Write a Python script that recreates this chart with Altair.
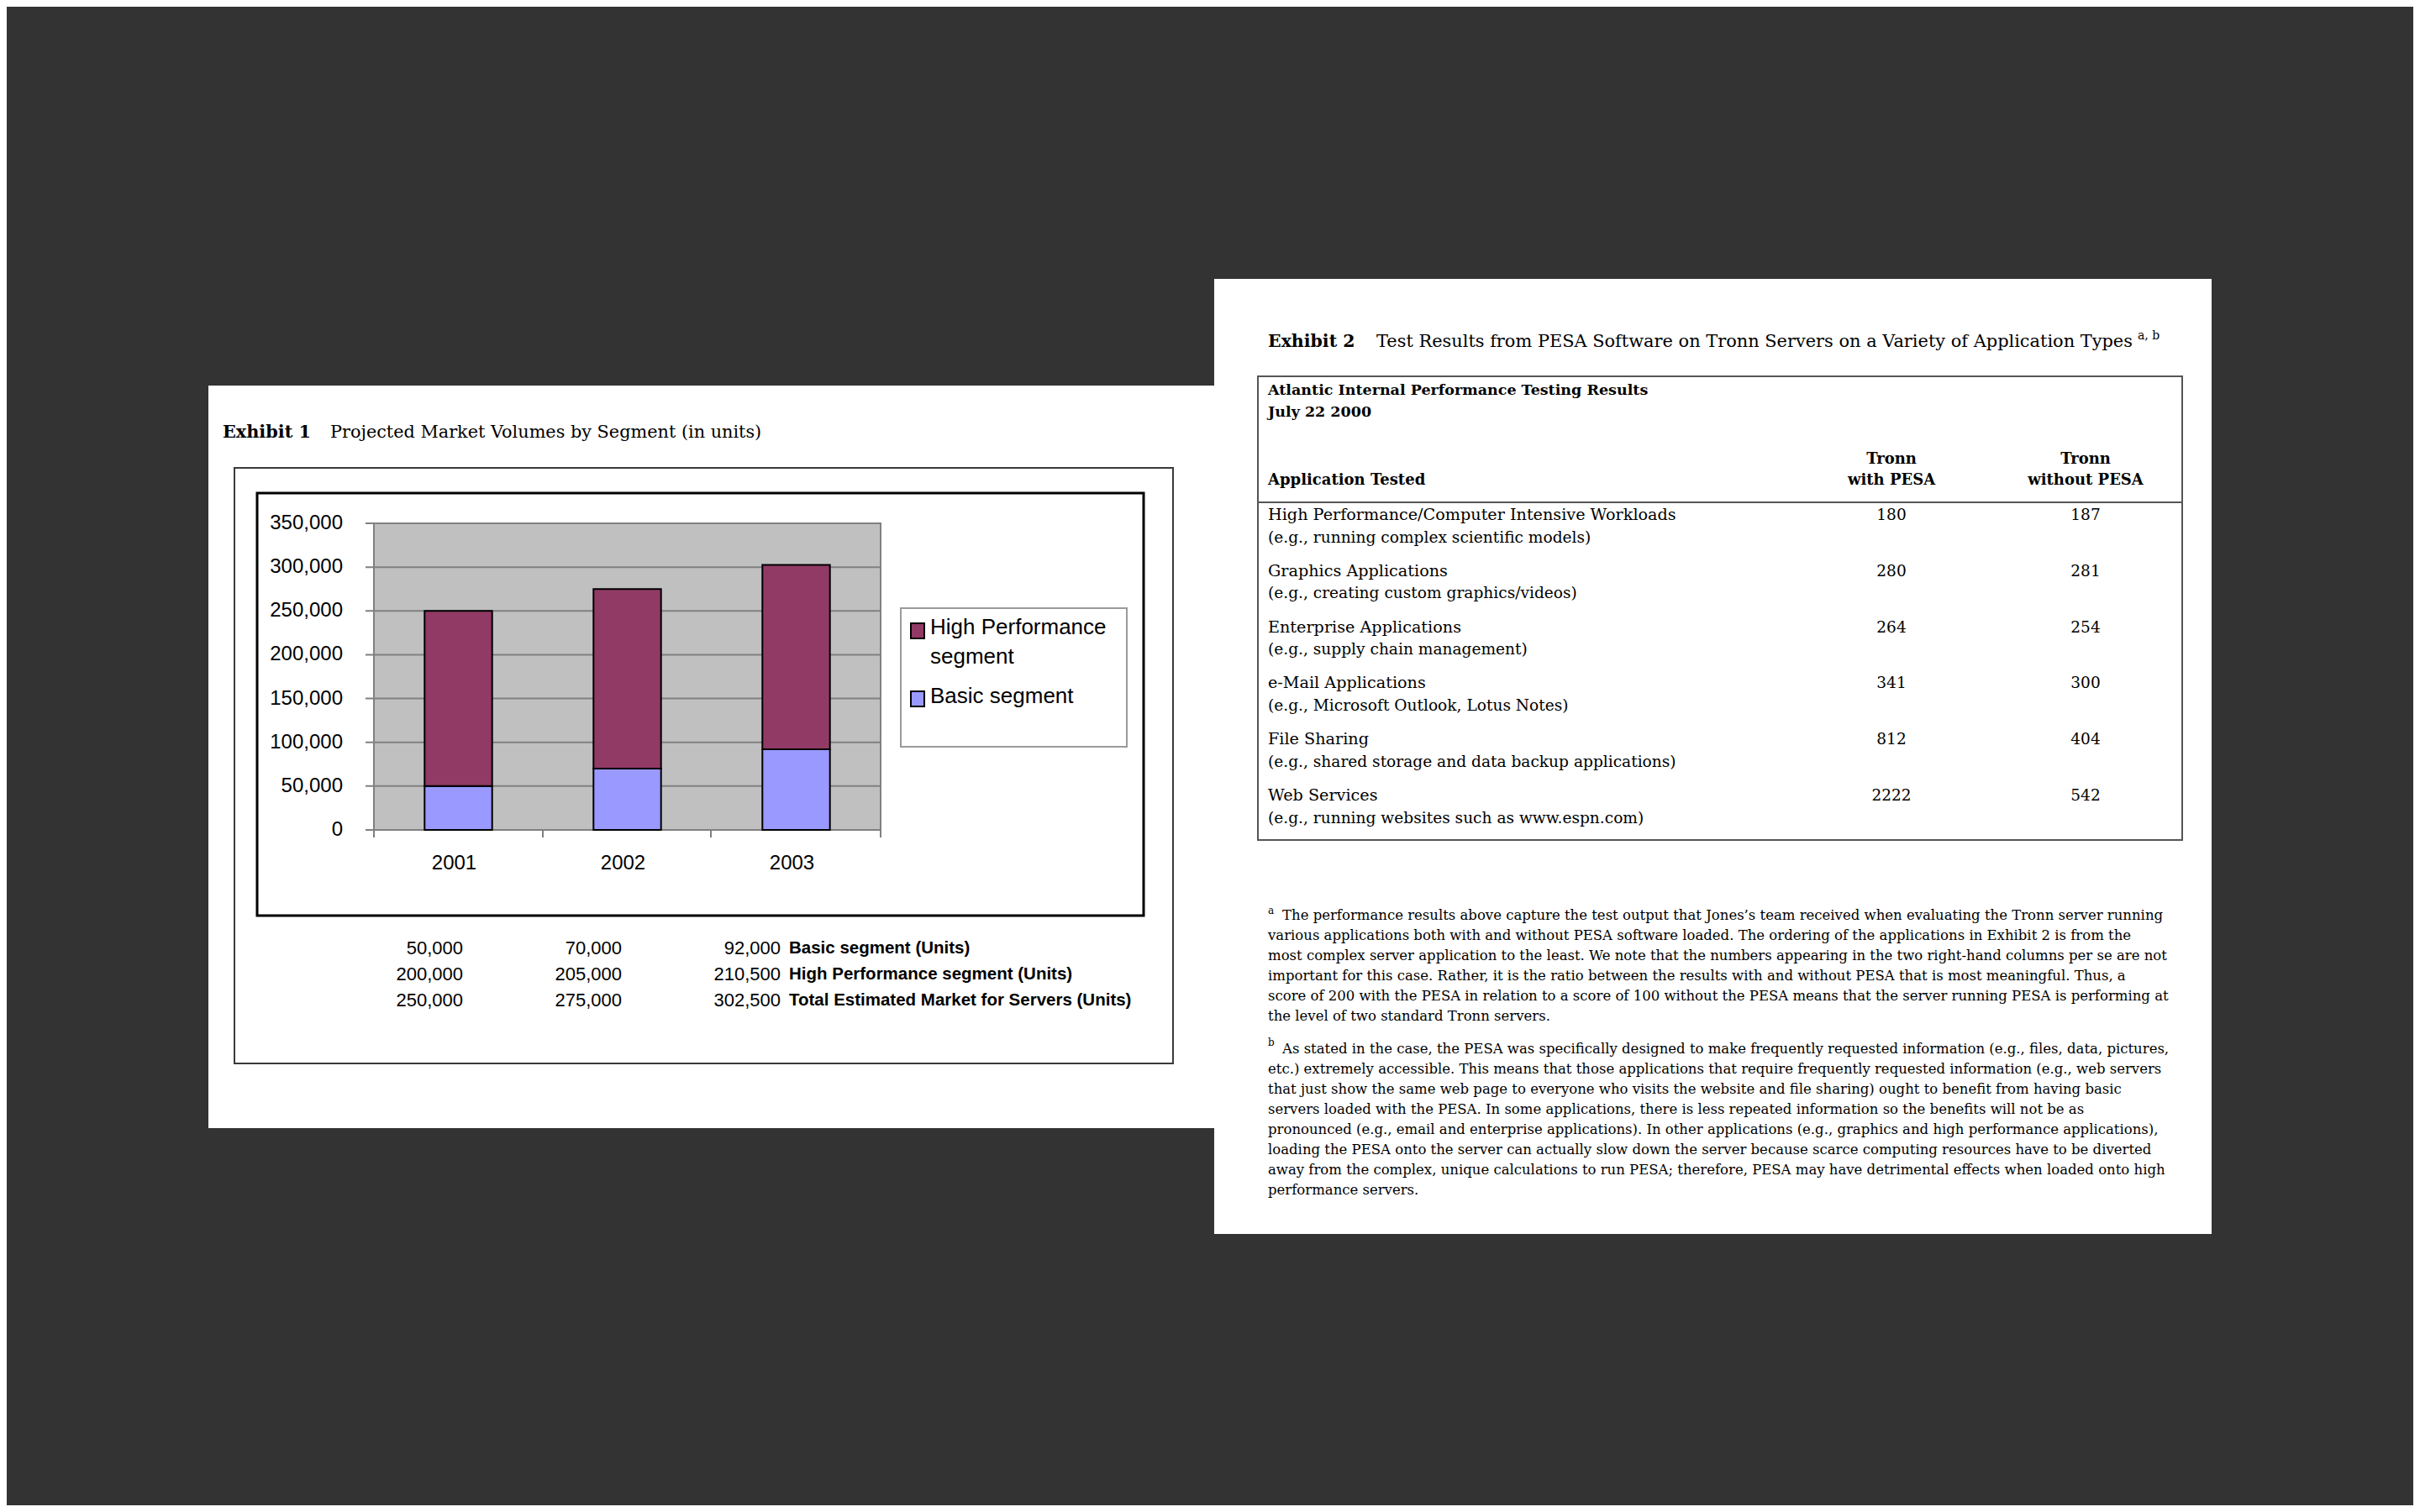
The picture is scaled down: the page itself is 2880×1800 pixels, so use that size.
import altair as alt
import pandas as pd

# ---------------- Exhibit 1 data ----------------
years = ["2001", "2002", "2003"]
basic_units = [50000, 70000, 92000]
high_perf_units = [200000, 205000, 210500]
total_units = [250000, 275000, 302500]
segments = ["Basic segment", "High Performance segment"]
segment_colors = ["#9999FF", "#913A65"]
y_ticks = [0, 50000, 100000, 150000, 200000, 250000, 300000, 350000]
table_labels = ["Basic segment (Units)", "High Performance segment (Units)",
                "Total Estimated Market for Servers (Units)"]

# ---------------- Exhibit 2 data ----------------
apps = ["High Performance/Computer Intensive Workloads", "Graphics Applications",
        "Enterprise Applications", "e-Mail Applications", "File Sharing", "Web Services"]
app_examples = ["(e.g., running complex scientific models)",
                "(e.g., creating custom graphics/videos)",
                "(e.g., supply chain management)",
                "(e.g., Microsoft Outlook, Lotus Notes)",
                "(e.g., shared storage and data backup applications)",
                "(e.g., running websites such as www.espn.com)"]
with_pesa = [180, 280, 264, 341, 812, 2222]
without_pesa = [187, 281, 254, 300, 404, 542]
value_columns = ["with PESA", "without PESA"]

note_a = [
    "The performance results above capture the test output that Jones\u2019s team received when evaluating the Tronn server running",
    "various applications both with and without PESA software loaded.  The ordering of the applications in Exhibit 2 is from the",
    "most complex server application to the least.  We note that the numbers appearing in the two right-hand columns per se are not",
    "important for this case.  Rather, it is the ratio between the results with and without PESA that is most meaningful.  Thus, a",
    "score of 200 with the PESA in relation to a score of 100 without the PESA means that the server running PESA is performing at",
    "the level of two standard Tronn servers.",
]
note_b = [
    "As stated in the case, the PESA was specifically designed to make frequently requested information (e.g., files, data, pictures,",
    "etc.) extremely accessible.  This means that those applications that require frequently requested information (e.g., web servers",
    "that just show the same web page to everyone who visits the website and file sharing) ought to benefit from having basic",
    "servers loaded with the PESA.  In some applications, there is less repeated information so the benefits will not be as",
    "pronounced (e.g., email and enterprise applications).  In other applications (e.g., graphics and high performance applications),",
    "loading the PESA onto the server can actually slow down the server because scarce computing resources have to be diverted",
    "away from the complex, unique calculations to run PESA; therefore, PESA may have detrimental effects when loaded onto high",
    "performance servers.",
]

# ---------------- helpers ----------------
OFF = 8
SERIF = "DejaVu Serif"
SANS = "Liberation Sans"


def P(v):
    return v - OFF


one = pd.DataFrame({"k": [0]})
layers = []


def box(x1, y1, x2, y2, fill=None, stroke=None, sw=0):
    kw = {}
    if fill:
        kw["fill"] = fill
    else:
        kw["fillOpacity"] = 0
    if stroke:
        kw["stroke"] = stroke
        kw["strokeWidth"] = sw
    layers.append(alt.Chart(one).mark_rect(**kw).encode(
        x=alt.value(P(x1)), x2=alt.value(P(x2)), y=alt.value(P(y1)), y2=alt.value(P(y2))))


def line(x1, y1, x2, y2, color, sw):
    layers.append(alt.Chart(one).mark_rule(color=color, strokeWidth=sw).encode(
        x=alt.value(P(x1)), x2=alt.value(P(x2)), y=alt.value(P(y1)), y2=alt.value(P(y2))))


def txt(s, x, y, size, font=SERIF, weight="normal", align="left",
        baseline="alphabetic", color="black", style="normal"):
    layers.append(alt.Chart(one).mark_text(
        text=s, font=font, fontSize=size, fontWeight=weight, fontStyle=style,
        align=align, baseline=baseline, color=color).encode(
        x=alt.value(P(x)), y=alt.value(P(y))))


# ---------------- Exhibit 1 panel ----------------
box(248, 459, 1445, 1343, fill="white")
txt("Exhibit 1", 265, 521, 20.8, weight="bold")
txt("Projected Market Volumes by Segment (in units)", 393, 521, 20.8)
box(279, 557, 1396, 1266, stroke="#3a3a3a", sw=2)
box(306, 587, 1361, 1090, stroke="black", sw=3)

x_band = alt.Scale(domain=years, range=[P(445), P(1048)], paddingInner=0.6, paddingOuter=0.3)
y_units = alt.Scale(domain=[0, 350000], range=[P(988), P(623)], nice=False, zero=True)

# plot background
box(445, 623, 1048, 988, fill="#C0C0C0", stroke="#808080", sw=2)

tick_df = pd.DataFrame({"v": y_ticks})
layers.append(alt.Chart(tick_df).mark_rule(color="#808080", strokeWidth=2).encode(
    y=alt.Y("v:Q", scale=y_units, axis=None),
    x=alt.value(P(435)), x2=alt.value(P(1048))))
layers.append(alt.Chart(tick_df).mark_text(
    font=SANS, fontSize=24, align="right", baseline="middle", color="black").encode(
    y=alt.Y("v:Q", scale=y_units, axis=None),
    x=alt.value(P(408)),
    text=alt.Text("v:Q", format=",")))

# x axis ticks at category boundaries
for bx in [445, 646, 846, 1048]:
    line(bx, 988, bx, 997, "#808080", 2)

seg_df = pd.DataFrame({
    "year": years * 2,
    "segment": [segments[0]] * len(years) + [segments[1]] * len(years),
    "units": basic_units + high_perf_units,
    "stack_order": [0] * len(years) + [1] * len(years),
})
layers.append(alt.Chart(seg_df).mark_bar(stroke="black", strokeWidth=2).encode(
    x=alt.X("year:O", scale=x_band, axis=None),
    y=alt.Y("units:Q", stack="zero", scale=y_units, axis=None),
    color=alt.Color("segment:N", scale=alt.Scale(domain=segments, range=segment_colors), legend=None),
    order=alt.Order("stack_order:Q"),
))

year_df = pd.DataFrame({"year": years})
layers.append(alt.Chart(year_df).mark_text(
    font=SANS, fontSize=24, align="center", baseline="middle", color="black", dx=-5).encode(
    x=alt.X("year:O", scale=x_band, axis=None),
    y=alt.value(P(1028)),
    text="year:N"))

# legend
box(1072, 724, 1341, 889, fill="white", stroke="#9a9a9a", sw=2)
box(1084, 742, 1100, 760, fill=segment_colors[1], stroke="black", sw=2)
box(1084, 823, 1100, 841, fill=segment_colors[0], stroke="black", sw=2)
txt("High Performance", 1107, 747, 26, font=SANS, baseline="middle")
txt("segment", 1107, 782, 26, font=SANS, baseline="middle")
txt(segments[0], 1107, 829, 26, font=SANS, baseline="middle")

# data table under chart
tab_rows = []
for lab, vals in zip(table_labels, [basic_units, high_perf_units, total_units]):
    for yr, v in zip(years, vals):
        tab_rows.append({"row": lab, "year": yr, "v": v})
tab_df = pd.DataFrame(tab_rows)
row_scale = alt.Scale(type="point", domain=table_labels, range=[P(1129), P(1191)], padding=0)
col_scale = alt.Scale(type="point", domain=years, range=[P(551), P(929)], padding=0)
layers.append(alt.Chart(tab_df).mark_text(
    font=SANS, fontSize=22, align="right", baseline="middle", color="black").encode(
    x=alt.X("year:O", scale=col_scale, axis=None),
    y=alt.Y("row:N", scale=row_scale, axis=None),
    text=alt.Text("v:Q", format=",")))
lab_df = pd.DataFrame({"row": table_labels})
layers.append(alt.Chart(lab_df).mark_text(
    font=SANS, fontSize=20.5, fontWeight="bold", align="left", baseline="middle", color="black").encode(
    x=alt.value(P(939)),
    y=alt.Y("row:N", scale=row_scale, axis=None),
    text="row:N"))

# ---------------- Exhibit 2 panel ----------------
box(1445, 332, 2632, 1469, fill="white")
txt("Exhibit 2", 1509, 413, 20.5, weight="bold")
txt("Test Results from PESA Software on Tronn Servers on a Variety of Application Types",
    1638, 413, 20.9)
txt("a, b", 2544, 404, 14)

box(1497, 448, 2597, 1000, stroke="#555555", sw=2)
line(1497, 598, 2597, 598, "#555555", 2)
txt("Atlantic Internal Performance Testing Results", 1509, 470, 17.5, weight="bold")
txt("July 22 2000", 1509, 496, 17.5, weight="bold")
txt("Application Tested", 1509, 577, 18, weight="bold")
txt("Tronn", 2251, 552, 18, weight="bold", align="center")
txt("with PESA", 2251, 577, 18, weight="bold", align="center")
txt("Tronn", 2482, 552, 18, weight="bold", align="center")
txt("without PESA", 2482, 577, 18, weight="bold", align="center")

app_df = pd.DataFrame({"app": apps, "example": app_examples})
app_scale = alt.Scale(type="point", domain=apps, range=[P(619), P(953)], padding=0)
layers.append(alt.Chart(app_df).mark_text(
    font=SERIF, fontSize=19.2, align="left", baseline="alphabetic", color="black").encode(
    x=alt.value(P(1509)),
    y=alt.Y("app:N", scale=app_scale, axis=None),
    text="app:N"))
layers.append(alt.Chart(app_df).mark_text(
    font=SERIF, fontSize=18.6, align="left", baseline="alphabetic", color="black", dy=26.5).encode(
    x=alt.value(P(1509)),
    y=alt.Y("app:N", scale=app_scale, axis=None),
    text="example:N"))

val_rows = []
for a, w, wo in zip(apps, with_pesa, without_pesa):
    val_rows.append({"app": a, "col": value_columns[0], "v": w})
    val_rows.append({"app": a, "col": value_columns[1], "v": wo})
val_df = pd.DataFrame(val_rows)
vcol_scale = alt.Scale(type="point", domain=value_columns, range=[P(2251), P(2482)], padding=0)
layers.append(alt.Chart(val_df).mark_text(
    font=SERIF, fontSize=18.5, align="center", baseline="alphabetic", color="black").encode(
    x=alt.X("col:N", scale=vcol_scale, axis=None),
    y=alt.Y("app:N", scale=app_scale, axis=None),
    text="v:Q"))

# footnotes
txt("a", 1509, 1088, 12)
txt("b", 1509, 1245, 12)
notes = []
for i, s in enumerate(note_a):
    notes.append({"s": s, "x": P(1526 if i == 0 else 1509), "y": P(1095 + 24 * i)})
for i, s in enumerate(note_b):
    notes.append({"s": s, "x": P(1526 if i == 0 else 1509), "y": P(1254 + 24 * i)})
notes_df = pd.DataFrame(notes)
layers.append(alt.Chart(notes_df).mark_text(
    font=SERIF, fontSize=16.5, align="left", baseline="alphabetic", color="black").encode(
    x=alt.X("x:Q", scale=None, axis=None),
    y=alt.Y("y:Q", scale=None, axis=None),
    text="s:N"))

chart = alt.layer(*layers).resolve_scale(
    x="independent", y="independent", color="independent"
).properties(
    width=2864, height=1784, padding=0,
    autosize=alt.AutoSizeParams(type="none"),
    background="#333333",
).configure_view(strokeOpacity=0)

chart.save("out.html", embed_options={"renderer": "svg", "actions": False})
